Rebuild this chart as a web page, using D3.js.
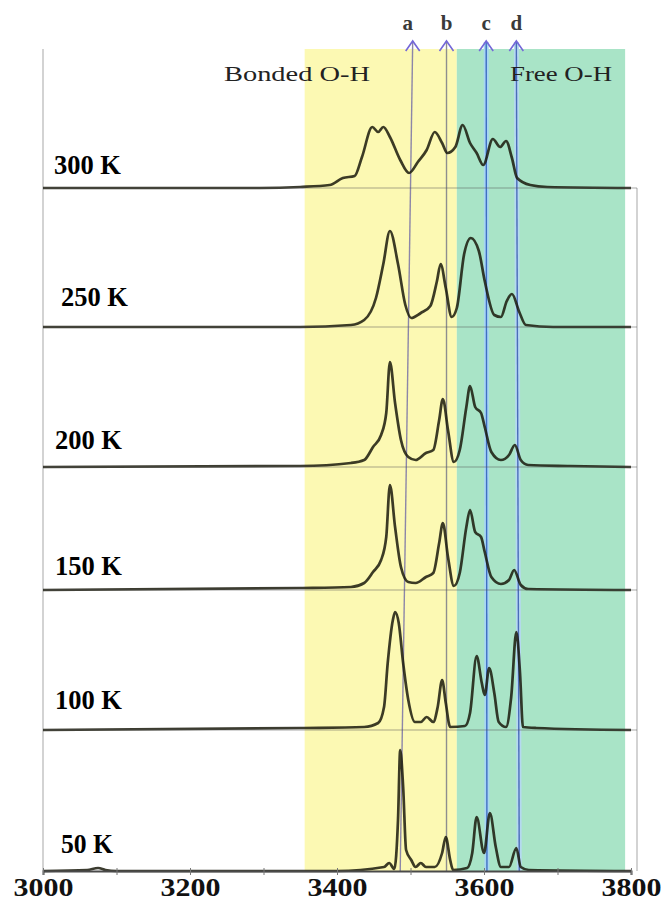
<!DOCTYPE html>
<html>
<head>
<meta charset="utf-8">
<script src="https://cdn.jsdelivr.net/npm/d3@7"></script>
<style>
  body { margin: 0; background: #fff; }
  svg { display: block; }
</style>
</head>
<body>
<div id="chart"></div>
<script>
// temperatures, top panel first
const temps = ['300 K', '250 K', '200 K', '150 K', '100 K', '50 K']

// spectra: [wavenumber (cm-1), intensity (a.u.)]
const spec300 = [[3000, 0], [3295, 0], [3350, 1], [3390, 3], [3408, 10], [3424, 12], [3434, 31], [3448, 61],
  [3456, 56], [3463, 61], [3472, 51], [3486, 28], [3498, 15], [3510, 26], [3522, 38], [3533, 56], [3543, 45],
  [3550, 35], [3561, 41], [3571, 63], [3581, 45], [3590, 35], [3599, 23], [3612, 49], [3622, 41], [3630, 47],
  [3638, 30], [3645, 10], [3663, 3], [3686, 1], [3800, 0]]
const spec250 = [[3000, 0], [3350, 0], [3419, 2], [3437, 7], [3453, 29], [3463, 63], [3472, 96], [3483, 63],
  [3493, 22], [3501, 9], [3514, 14], [3527, 21], [3536, 46], [3541, 63], [3548, 39], [3556, 10], [3563, 19],
  [3573, 73], [3582, 89], [3593, 76], [3601, 46], [3614, 12], [3623, 10], [3631, 26], [3638, 33], [3648, 15],
  [3657, 2], [3694, 0], [3800, 0]]
const spec200 = [[3000, 0], [3350, 1], [3419, 4], [3437, 7], [3449, 20], [3460, 32], [3467, 54], [3472, 105],
  [3479, 64], [3487, 27], [3497, 10], [3507, 7], [3521, 14], [3531, 17], [3539, 47], [3544, 68], [3551, 37],
  [3559, 5], [3567, 17], [3576, 60], [3581, 81], [3588, 60], [3596, 54], [3601, 40], [3610, 15], [3623, 7],
  [3634, 12], [3642, 22], [3650, 7], [3660, 2], [3717, 1], [3800, 0]]
const spec150 = [[3000, 0], [3350, 2], [3419, 3], [3437, 7], [3449, 18], [3460, 30], [3467, 53], [3472, 105],
  [3479, 63], [3487, 23], [3497, 8], [3507, 7], [3521, 13], [3531, 17], [3539, 47], [3544, 67], [3551, 33],
  [3559, 4], [3567, 17], [3576, 63], [3581, 80], [3588, 58], [3596, 53], [3601, 38], [3610, 13], [3623, 6],
  [3634, 10], [3641, 20], [3650, 5], [3660, 1], [3800, 0]]
const spec100 = [[3000, 0], [3350, 2], [3437, 3], [3456, 7], [3464, 23], [3469, 67], [3476, 110], [3479, 118],
  [3484, 107], [3490, 67], [3497, 30], [3506, 8], [3514, 8], [3522, 13], [3531, 8], [3537, 23], [3543, 50],
  [3548, 27], [3554, 3], [3574, 4], [3581, 17], [3590, 74], [3597, 47], [3601, 35], [3607, 62], [3614, 37],
  [3620, 8], [3630, 3], [3637, 33], [3644, 98], [3649, 57], [3653, 3], [3671, 2], [3800, 0]]
const spec50 = [[3000, 0], [3060, 1], [3075, 3], [3085, 1], [3100, 0], [3400, 0], [3464, 4], [3471, 8],
  [3478, 2], [3483, 51], [3486, 121], [3490, 84], [3494, 21], [3501, 11], [3507, 4], [3514, 8], [3521, 4],
  [3533, 4], [3543, 18], [3548, 34], [3554, 11], [3558, 1], [3577, 3], [3584, 18], [3590, 54], [3600, 18],
  [3608, 58], [3616, 24], [3623, 4], [3634, 4], [3644, 23], [3650, 4], [3661, 1], [3800, 0]]
const spectra = [spec300, spec250, spec200, spec150, spec100, spec50]

// shaded regions [from, to]
const bondedRange = [3356, 3563]
const freeRange = [3563, 3792]

// peak markers a-d: wavenumber at top and at bottom of the guide line
const markers = ['a', 'b', 'c', 'd']
const markerTop = [3503, 3549, 3603, 3644]
const markerBottom = [3486, 3549, 3604, 3648]

const tickValues = [3000, 3100, 3200, 3300, 3400, 3500, 3600, 3700, 3800]

const width = 671
const height = 905
const baselines = [188, 327, 467, 590, 730, 871]
const panelTops = [49, 188, 327, 467, 590, 730]
const labelPos = [[54, 174], [61, 306], [55, 449], [55, 575], [55, 709], [61, 853]]
const bandTop = 49
const axisY = 871
const serif = '"Liberation Serif", "Times New Roman", serif'

const x = d3.scaleLinear().domain([3000, 3800]).range([43, 631])

const svg = d3.select('#chart').append('svg')
    .attr('width', width)
    .attr('height', height)
    .style('background', '#fff')

// bands
svg.append('rect')
    .attr('x', x(bondedRange[0]))
    .attr('y', bandTop)
    .attr('width', x(bondedRange[1]) - x(bondedRange[0]))
    .attr('height', axisY - bandTop)
    .attr('fill', '#fcf9b3')
svg.append('rect')
    .attr('x', x(freeRange[0]))
    .attr('y', bandTop)
    .attr('width', x(freeRange[1]) - x(freeRange[0]))
    .attr('height', axisY - bandTop)
    .attr('fill', '#a9e4c7')

// panel frames
temps.forEach((t, i) => {
  const g = svg.append('g').attr('class', 'frame')
  g.append('line')
      .attr('x1', 43).attr('x2', 43)
      .attr('y1', panelTops[i]).attr('y2', baselines[i])
      .attr('stroke', '#c4c4c4').attr('stroke-width', 1.5)
  if (i > 0) {
    g.append('line')
        .attr('x1', 637).attr('x2', 637)
        .attr('y1', panelTops[i]).attr('y2', baselines[i])
        .attr('stroke', '#c4c4c4').attr('stroke-width', 1.5)
  }
})

// guide lines and arrows
const lineColor = ['#8c86a8', '#8e8e8e', '#3f6fc2', '#4a6cb8']
const haloColor = [null, null, '#a7d6f2', '#b5d9f0']
markers.forEach((m, i) => {
  const x1 = x(markerTop[i])
  const x2 = x(markerBottom[i])
  if (haloColor[i]) {
    svg.append('line')
        .attr('x1', x1).attr('y1', 42).attr('x2', x2).attr('y2', axisY)
        .attr('stroke', haloColor[i]).attr('stroke-width', 5)
  }
  svg.append('line')
      .attr('x1', x1).attr('y1', 41).attr('x2', x2).attr('y2', axisY)
      .attr('stroke', lineColor[i]).attr('stroke-width', 1.4)
  svg.append('path')
      .attr('d', `M${x1 - 7},${51} L${x1},${41} L${x1 + 7},${51}`)
      .attr('fill', 'none')
      .attr('stroke', '#7467d8')
      .attr('stroke-width', 1.6)
  svg.append('text')
      .attr('x', i === 0 ? x1 - 5 : x1)
      .attr('y', 30)
      .attr('text-anchor', 'middle')
      .style('font-family', serif)
      .style('font-size', '21px')
      .style('font-weight', 'bold')
      .attr('fill', '#3a3a3a')
      .text(m)
})

// band titles
svg.append('text')
    .attr('x', 224).attr('y', 81)
    .attr('textLength', 146).attr('lengthAdjust', 'spacingAndGlyphs')
    .style('font-family', serif)
    .style('font-size', '21px')
    .attr('fill', '#222')
    .text('Bonded O-H')
svg.append('text')
    .attr('x', 510).attr('y', 81)
    .attr('textLength', 102).attr('lengthAdjust', 'spacingAndGlyphs')
    .style('font-family', serif)
    .style('font-size', '21px')
    .attr('fill', '#222')
    .text('Free O-H')

// spectra
spectra.forEach((spec, i) => {
  const y = d3.scaleLinear().domain([0, 140]).range([baselines[i], baselines[i] - 140])
  const line = d3.line()
      .x(d => x(d[0]))
      .y(d => y(d[1]))
      .curve(d3.curveMonotoneX)
  svg.append('path')
      .datum(spec)
      .attr('d', line)
      .attr('fill', 'none')
      .attr('stroke', '#1a1a0c')
      .attr('stroke-opacity', 0.85)
      .attr('stroke-width', 2.7)
      .attr('stroke-linejoin', 'round')
})

// bottoms of the panel frames
baselines.slice(0, 5).forEach(b => {
  svg.append('line')
      .attr('x1', 43).attr('x2', 637)
      .attr('y1', b).attr('y2', b)
      .attr('stroke', '#555').attr('stroke-opacity', 0.5).attr('stroke-width', 1)
})

// temperature labels
temps.forEach((t, i) => {
  svg.append('text')
      .attr('x', labelPos[i][0])
      .attr('y', labelPos[i][1])
      .attr('textLength', t.length > 4 ? 67 : 52)
      .attr('lengthAdjust', 'spacingAndGlyphs')
      .style('font-family', serif)
      .style('font-size', '27px')
      .style('font-weight', 'bold')
      .attr('fill', '#000')
      .text(t)
})

// x axis
const xAxis = d3.axisBottom(x)
    .tickValues(tickValues)
    .tickFormat(d => d % 200 === 0 ? d : '')
    .tickSize(4)
    .tickPadding(3)

const axisG = svg.append('g')
    .attr('transform', `translate(0, ${axisY})`)
    .call(xAxis)

axisG.select('.domain')
    .attr('stroke', '#4a4a4a')
    .attr('stroke-width', 2)
axisG.selectAll('.tick line')
    .attr('stroke', '#777')
    .attr('y1', -3)
axisG.selectAll('.tick text')
    .style('font-family', serif)
    .style('font-size', '25px')
    .style('font-weight', 'bold')
    .attr('fill', '#111')
    .attr('textLength', d => d % 200 === 0 ? 60 : null)
    .attr('lengthAdjust', 'spacingAndGlyphs')
</script>
</body>
</html>
